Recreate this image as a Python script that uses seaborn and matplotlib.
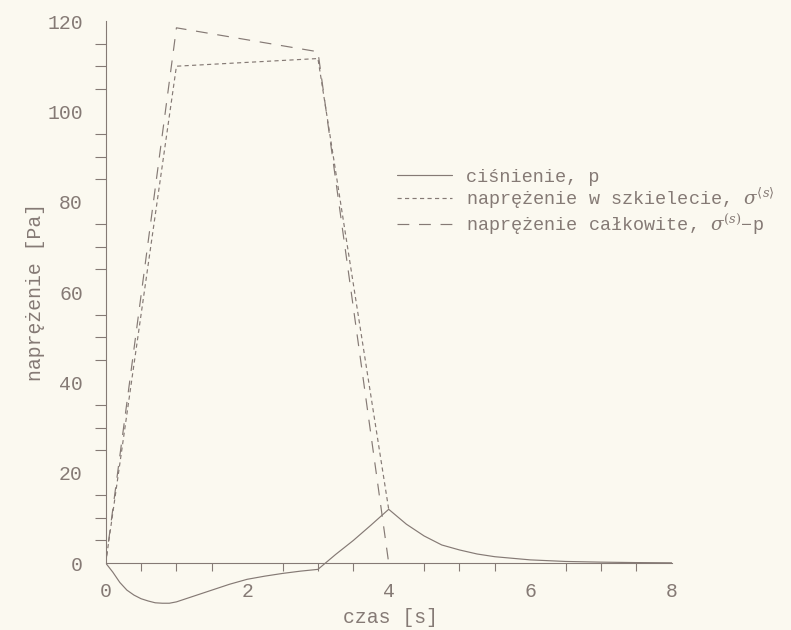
import matplotlib
matplotlib.use("Agg")
import matplotlib.pyplot as plt
import numpy as np
import pandas as pd
import seaborn as sns
from matplotlib.ticker import FixedLocator

# --- data -------------------------------------------------------------
time_p = [0.0, 0.1, 0.2, 0.3, 0.4, 0.5, 0.6, 0.7, 0.8, 0.9, 1.0, 1.25,
          1.5, 1.75, 2.0, 2.25, 2.5, 2.75, 3.0, 3.25, 3.5, 3.75, 4.0,
          4.25, 4.5, 4.75, 5.0, 5.25, 5.5, 6.0, 6.5, 7.0, 7.5, 8.0]
pressure = [0.0, -2.0, -4.3, -6.0, -7.1, -7.9, -8.4, -8.8, -8.9, -8.9,
            -8.6, -7.3, -6.0, -4.7, -3.6, -2.9, -2.3, -1.8, -1.4, 1.9,
            5.0, 8.4, 11.9, 8.6, 6.0, 4.0, 2.9, 2.0, 1.4, 0.7, 0.35,
            0.2, 0.1, 0.05]

time_s = [0.0, 1.0, 3.0, 4.0]
skeleton_stress = [0.0, 110.0, 111.7, 11.9]

time_total = [0.0, 1.0, 3.0, 4.0]
total_stress = [0.0, 118.5, 113.2, 0.0]

labels = ["ciśnienie, p",
          r"naprężenie w szkielecie, $\sigma^{\langle s\rangle}$",
          r"naprężenie całkowite, $\sigma^{(s)}$−p"]

x_ticks = [0, 2, 4, 6, 8]
x_minor = list(np.arange(0, 8.01, 0.5))
y_ticks = [0, 20, 40, 60, 80, 100, 120]
y_minor = list(range(0, 121, 5))

# --- style ------------------------------------------------------------
paper = "#fbf9f0"
ink = "#857a75"
fs = 14.2

sns.set_theme(style="white")
plt.rcParams["font.family"] = ["Liberation Mono", "DejaVu Sans Mono"]
plt.rcParams["mathtext.fontset"] = "dejavuserif"
plt.rcParams["lines.scale_dashes"] = False

fig = plt.figure(figsize=(7.91, 6.30), dpi=100, facecolor=paper)
ax = fig.add_axes([0.1336, 0.0346, 0.7156, 0.932])
ax.set_facecolor(paper)

df_p = pd.DataFrame({"t": time_p, "v": pressure})
df_s = pd.DataFrame({"t": time_s, "v": skeleton_stress})
df_c = pd.DataFrame({"t": time_total, "v": total_stress})

lw = 0.85
sns.lineplot(data=df_p, x="t", y="v", ax=ax, color=ink, lw=lw,
             linestyle="-", label=labels[0], sort=False)
sns.lineplot(data=df_s, x="t", y="v", ax=ax, color=ink, lw=lw,
             linestyle=(0, (3.0, 2.4)), label=labels[1], sort=False)
sns.lineplot(data=df_c, x="t", y="v", ax=ax, color=ink, lw=lw,
             linestyle=(0, (8.5, 7.0)), label=labels[2], sort=False)

ax.set_xlim(0, 8)
ax.set_ylim(-10, 120)

# axes: left spine from 0 to 120, bottom spine along zero
for side in ("top", "right"):
    ax.spines[side].set_visible(False)
ax.spines["left"].set_bounds(0, 120)
ax.spines["bottom"].set_position(("data", 0))
for side in ("left", "bottom"):
    ax.spines[side].set_color(ink)
    ax.spines[side].set_linewidth(0.8)

ax.set_xticks(x_ticks)
ax.set_yticks(y_ticks)
ax.xaxis.set_minor_locator(FixedLocator(x_minor))
ax.yaxis.set_minor_locator(FixedLocator(y_minor))
ax.tick_params(which="major", direction="out", colors=ink, labelsize=fs,
               width=0.8)
ax.tick_params(axis="y", which="major", length=11.5, pad=5)
ax.tick_params(axis="y", which="minor", length=8, width=0.8, colors=ink,
               left=True)
ax.tick_params(axis="x", which="major", length=10, pad=4)
ax.tick_params(axis="x", which="minor", length=6, width=0.8, colors=ink,
               bottom=True)

ax.set_xlabel("czas [s]", fontsize=fs, color=ink)
ax.set_ylabel("naprężenie [Pa]", fontsize=fs, color=ink)
ax.yaxis.set_label_coords(-0.108, 0.538)
ax.xaxis.set_label_coords(0.504, 0.0)
ax.xaxis.label.set_va("top")

ax.legend(loc="upper left", bbox_to_anchor=(0.502, 0.732),
          bbox_transform=fig.transFigure, frameon=False, fontsize=13.3,
          handlelength=2.95, handletextpad=0.8, labelspacing=0.0,
          borderpad=0, borderaxespad=0, labelcolor=ink)

fig.savefig("out.png", dpi=100, facecolor=paper)
